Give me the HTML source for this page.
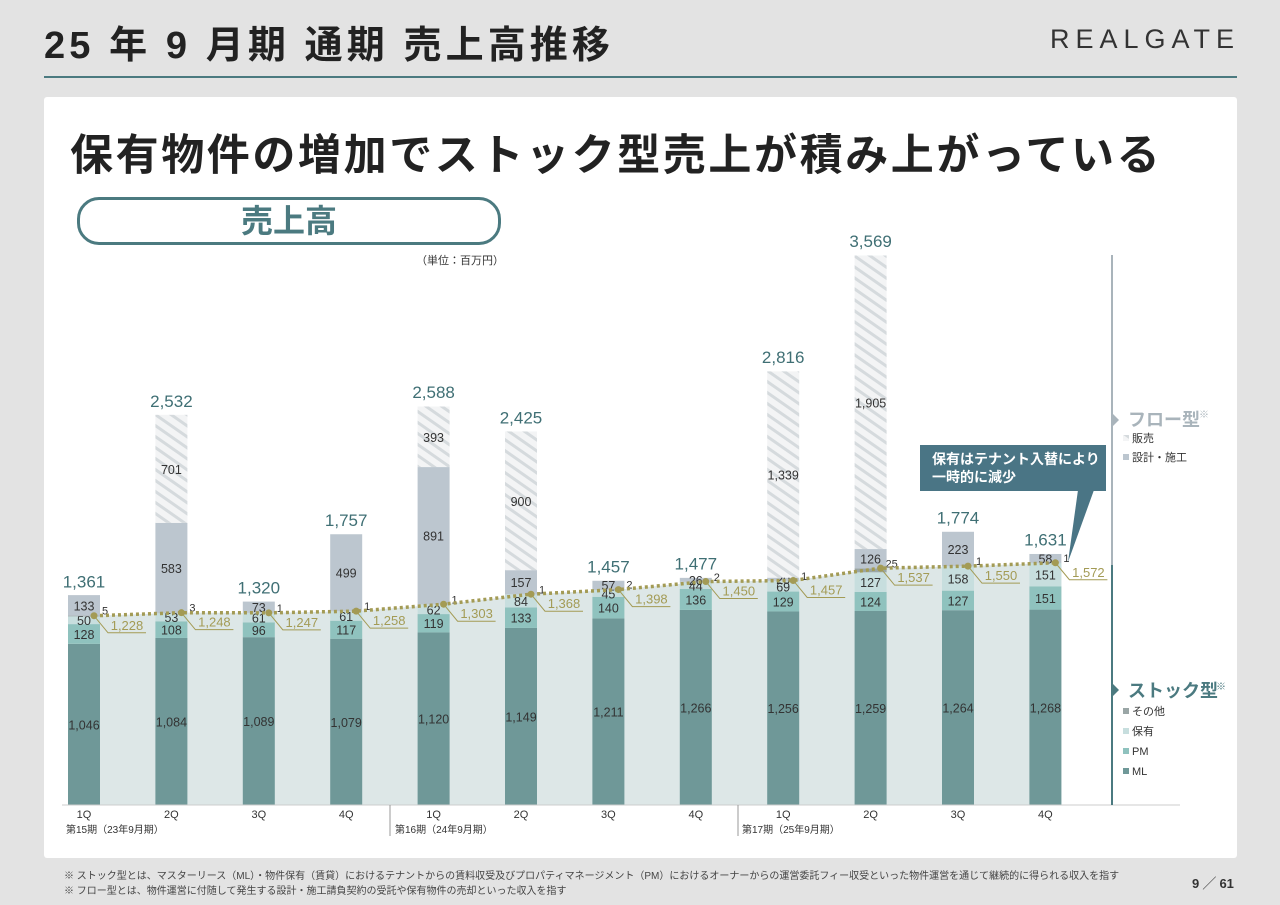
<!DOCTYPE html>
<html><head><meta charset="utf-8">
<style>
body{margin:0;width:1280px;height:905px;background:#e3e3e3;font-family:"Liberation Sans","Noto Sans CJK JP",sans-serif;position:relative;overflow:hidden}
.abs{position:absolute}
</style></head>
<body>
<div class="abs" style="left:44px;top:14px;font-size:38px;font-weight:bold;color:#222;letter-spacing:4.1px">25 年 9 月期 通期 売上高推移</div>
<div class="abs" style="left:1050px;top:24px;font-size:27px;color:#333;letter-spacing:6px">REALGATE</div>
<div class="abs" style="left:44px;top:76px;width:1193px;height:2px;background:#4b7a80"></div>
<div class="abs" style="left:44px;top:97px;width:1193px;height:761px;background:#fff;border-radius:3px"></div>
<div class="abs" style="left:70px;top:121px;font-size:43px;font-weight:bold;color:#222;letter-spacing:2.6px">保有物件の増加でストック型売上が積み上がっている</div>
<div class="abs" style="left:77px;top:197px;width:418px;height:42px;border:3px solid #4b7a80;border-radius:22px;text-align:center;font-size:32px;font-weight:bold;color:#4b7a80;line-height:42px">売上高</div>
<div class="abs" style="left:416px;top:252px;font-size:11px;color:#333">（単位：百万円）</div>

<svg class="abs" style="left:0;top:0" width="1280" height="905" id="chart">
<defs><pattern id="hatch" width="9" height="9" patternUnits="userSpaceOnUse" patternTransform="rotate(-55)"><rect width="9" height="9" fill="#f3f4f5"/><rect width="3" height="9" fill="#d5dadd"/></pattern></defs>
</svg>

<div class="abs" style="left:920px;top:445px;width:186px;height:46px;background:#4a7585;color:#fff;font-size:14px;font-weight:bold;line-height:18px;padding:5px 0 0 12px;box-sizing:border-box">保有はテナント入替により<br>一時的に減少</div>

<div class="abs" style="left:64px;top:867px;font-size:10px;color:#444">※ ストック型とは、マスターリース（ML）・物件保有（賃貸）におけるテナントからの賃料収受及びプロパティマネージメント（PM）におけるオーナーからの運営委託フィー収受といった物件運営を通じて継続的に得られる収入を指す</div>
<div class="abs" style="left:64px;top:882px;font-size:10px;color:#444">※ フロー型とは、物件運営に付随して発生する設計・施工請負契約の受託や保有物件の売却といった収入を指す</div>
<div class="abs" style="left:1192px;top:873px;font-size:13px;font-weight:bold;color:#333">9 ╱ 61</div>

<script>
const quarters=["1Q","2Q","3Q","4Q","1Q","2Q","3Q","4Q","1Q","2Q","3Q","4Q"];
const ml=[1046,1084,1089,1079,1120,1149,1211,1266,1256,1259,1264,1268];
const pm=[128,108,96,117,119,133,140,136,129,124,127,151];
const hoyu=[50,53,61,61,62,84,45,44,69,127,158,151];
const other=[5,3,1,1,1,1,2,2,1,25,1,1];
const design=[133,583,73,499,891,157,57,26,20,126,223,58];
const sales=[0,701,0,0,393,900,0,0,1339,1905,0,0];
const stockTotals=[1228,1248,1247,1258,1303,1368,1398,1450,1457,1537,1550,1572];
const totals=[1361,2532,1320,1757,2588,2425,1457,1477,2816,3569,1774,1631];
const periods=["第15期（23年9月期）","第16期（24年9月期）","第17期（25年9月期）"];

const svg=document.getElementById('chart');const NS='http://www.w3.org/2000/svg';
const base=805,k=0.1541,bw=32;
const X=i=>84+i*87.4, Y=v=>base-v*k;
const fmt=v=>v.toLocaleString('en-US');
function el(t,a,p){const e=document.createElementNS(NS,t);for(const n in a)e.setAttribute(n,a[n]);(p||svg).appendChild(e);return e;}
function txt(x,y,s,size,fill,anchor,w){const e=el('text',{x:x,y:y,'font-size':size,fill:fill,'text-anchor':anchor||'middle','font-family':'Liberation Sans, Noto Sans CJK JP, sans-serif','font-weight':w||'normal'});e.textContent=s;return e;}

let pts=`${X(0)-16},${base} `;
stockTotals.forEach((v,i)=>{pts+=`${X(i)+10},${Y(v)} `;});
pts+=`${X(11)+16},${Y(stockTotals[11])} ${X(11)+16},${base}`;
const area=el('polygon',{points:pts,fill:'#dde7e7'});



const segs=[[ml,'#6f9898','ml'],[pm,'#8fc2be','pm'],[hoyu,'#c7dede','hoyu'],[other,'#9aa6a6','other'],[design,'#bcc6cf','design'],[sales,'url(#hatch)','sales']];
quarters.forEach((q,i)=>{
  let cum=0;
  segs.forEach(([arr,col,nm])=>{
    const v=arr[i];if(!v){return;}
    const r=el('rect',{x:X(i)-bw/2,y:Y(cum+v),width:bw,height:v*k,fill:col});
    
    
    const mid=Y(cum+v/2);
    if(nm==='other'){txt(X(i)+21,Y(cum+v)-1,fmt(v),11,'#333','middle');}
    else{txt(X(i),mid+5,fmt(v),12.5,'#333');}
    cum+=v;
  });
  txt(X(i),Y(totals[i])-8,fmt(totals[i]),17,'#3f6f74');
  txt(X(i),818,q,11,'#333');
});
let lp='';stockTotals.forEach((v,i)=>{lp+=`${X(i)+10},${Y(v)} `;});
const pl=el('polyline',{points:lp,fill:'none',stroke:'#a39b55','stroke-width':3.5,'stroke-dasharray':'3 3'});


stockTotals.forEach((v,i)=>{
  const x=X(i)+10,y=Y(v);
  el('circle',{cx:x,cy:y,r:3.5,fill:'#a39b55'});
  el('polyline',{points:`${x},${y} ${x+14},${y+17} ${x+52},${y+17}`,fill:'none',stroke:'#a39b55','stroke-width':1});
  txt(x+33,y+14,fmt(v),13,'#a39b55');
});
el('line',{x1:62,y1:base,x2:1180,y2:base,stroke:'#ccc','stroke-width':1});
[390,738].forEach(x=>el('line',{x1:x,y1:base,x2:x,y2:836,stroke:'#999','stroke-width':1}));
[66,395,742].forEach((x,i)=>txt(x,833,periods[i],10,'#333','start'));
el('line',{x1:1112,y1:255,x2:1112,y2:565,stroke:'#a9b4bb','stroke-width':2});
el('line',{x1:1112,y1:565,x2:1112,y2:805,stroke:'#4b7a80','stroke-width':2});
el('polygon',{points:'1113,414 1119,420 1113,426',fill:'#a9b4bb'});
el('polygon',{points:'1113,684 1119,690 1113,696',fill:'#4b7a80'});
txt(1128,426,'フロー型',18,'#a9b4bb','start','bold');txt(1199,418,'※',10,'#a9b4bb','start');
txt(1128,697,'ストック型',18,'#4b7a80','start','bold');txt(1216,690,'※',10,'#4b7a80','start');
[['販売','url(#hatch)',440],['設計・施工','#bcc6cf',459],['その他','#9aa6a6',713],['保有','#c7dede',733],['PM','#8fc2be',753],['ML','#6f9898',773]].forEach(([n,c,y])=>{
  const r=el('rect',{x:1123,y:y-5,width:6,height:6,fill:c});
  
  
  txt(1132,y+2,n,11,'#333','start');
});
el('polygon',{points:'1078,490 1094,490 1068,562',fill:'#4a7585'});
</script>
</body></html>
